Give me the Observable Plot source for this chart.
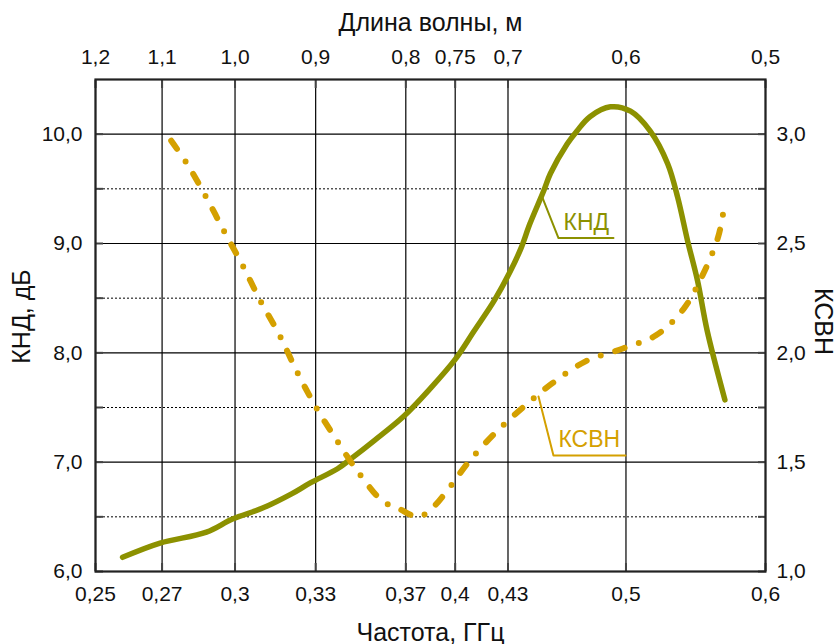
<!DOCTYPE html>
<html>
<head>
<meta charset="utf-8">
<script src="https://cdn.jsdelivr.net/npm/d3@7"></script>
<script src="https://cdn.jsdelivr.net/npm/@observablehq/plot@0.6"></script>
<style>
  html, body { margin: 0; padding: 0; background: #fff; }
  #chart svg { display: block; }
</style>
</head>
<body>
<div id="chart"></div>
<script>
// Wavelength grid (m) and the matching frequency labels (GHz); f = 0.3 / λ
const wavelengths = [1.2, 1.1, 1.0, 0.9, 0.8, 0.75, 0.7, 0.6, 0.5];
const wavelengthLabels = ["1,2", "1,1", "1,0", "0,9", "0,8", "0,75", "0,7", "0,6", "0,5"];
const freqLabels = ["0,25", "0,27", "0,3", "0,33", "0,37", "0,4", "0,43", "0,5", "0,6"];

// Left axis: directivity (dB); right axis: VSWR
const kndTicks = [6, 7, 8, 9, 10];
const kndHalfTicks = [6.5, 7.5, 8.5, 9.5];
const vswrTicks = [1.0, 1.5, 2.0, 2.5, 3.0];

// Directivity vs frequency
const kndFreq = [0.259, 0.272, 0.289, 0.299, 0.311, 0.323, 0.331, 0.343, 0.349, 0.360, 0.374, 0.387, 0.400,
                 0.410, 0.421, 0.430, 0.436, 0.441, 0.449, 0.453, 0.463, 0.469, 0.477, 0.490, 0.503, 0.516,
                 0.528, 0.535, 0.542, 0.549, 0.556, 0.569];
const kndValue = [6.13, 6.26, 6.36, 6.48, 6.58, 6.71, 6.81, 6.94, 7.03, 7.20, 7.42, 7.67, 7.94,
                  8.20, 8.48, 8.75, 8.96, 9.18, 9.48, 9.64, 9.91, 10.03, 10.16, 10.25, 10.21, 10.03,
                  9.73, 9.42, 9.02, 8.66, 8.20, 7.57];

// VSWR vs frequency
const vswrFreq = [0.276, 0.282, 0.289, 0.296, 0.303, 0.310, 0.318, 0.325, 0.333, 0.342, 0.352, 0.364, 0.371,
                  0.381, 0.387, 0.395, 0.407, 0.421, 0.437, 0.454, 0.474, 0.498, 0.520, 0.539, 0.553, 0.564, 0.568];
const vswrValue = [2.97, 2.86, 2.71, 2.55, 2.40, 2.24, 2.08, 1.92, 1.76, 1.61, 1.46, 1.32, 1.29,
                   1.25, 1.28, 1.36, 1.50, 1.63, 1.75, 1.86, 1.96, 2.02, 2.08, 2.20, 2.36, 2.53, 2.65];

// Callout leaders for the two curve labels
const kndLeaderFreq = [0.4483, 0.4578, 0.4919];
const kndLeaderValue = [9.42, 9.05, 9.05];
const vswrLeaderFreq = [0.4460, 0.4548, 0.4997];
const vswrLeaderValue = [1.80, 1.53, 1.53];

const olive = "#8c9100";
const gold = "#d4a000";
const comma = d => d.toFixed(1).replace(".", ",");

// VSWR shares the vertical scale: 1.0 ↔ 6 dB, 3.0 ↔ 10 dB
const vswrToY = v => 6 + 2 * (v - 1);

const freqTicks = wavelengths.map(l => 0.3 / l);
const allYTicks = [...kndTicks, ...kndHalfTicks];
const knd = kndFreq.map((f, i) => ({f, v: kndValue[i]}));
const vswr = vswrFreq.map((f, i) => ({f, v: vswrToY(vswrValue[i])}));
const kndLeader = kndLeaderFreq.map((f, i) => ({f, v: kndLeaderValue[i]}));
const vswrLeader = vswrLeaderFreq.map((f, i) => ({f, v: vswrToY(vswrLeaderValue[i])}));

// short inward tick stubs on the frame (no labels)
const stub = {tickSize: 8, label: null, tickFormat: () => "", stroke: "#444", strokeWidth: 2};

const chart = Plot.plot({
  width: 837,
  height: 644,
  marginLeft: 95,
  marginRight: 72,
  marginTop: 79,
  marginBottom: 73,
  style: {fontFamily: "'Liberation Sans', Arial, sans-serif", fontSize: "21px", color: "#111", background: "#fff"},
  x: {type: "log", domain: [0.25, 0.6]},
  y: {domain: [6, 10.5]},
  marks: [
    // grid
    Plot.ruleX(freqTicks, {stroke: "#000", strokeWidth: 1.2}),
    Plot.ruleY(kndTicks.slice(1), {stroke: "#000", strokeWidth: 1.2}),
    Plot.ruleY(kndHalfTicks, {stroke: "#000", strokeWidth: 1, strokeDasharray: "2,2"}),
    Plot.axisY(allYTicks, {...stub, anchor: "left", dx: 8}),
    Plot.axisY(allYTicks, {...stub, anchor: "right", dx: -8}),
    Plot.axisX(freqTicks, {...stub, anchor: "bottom", dy: -8}),
    Plot.axisX(freqTicks, {...stub, anchor: "top", dy: 8}),
    Plot.frame({stroke: "#222", strokeWidth: 2.2}),

    // curves
    Plot.line(knd, {x: "f", y: "v", stroke: olive, strokeWidth: 5.5, curve: "catmull-rom", strokeLinecap: "round"}),
    Plot.line(vswr, {x: "f", y: "v", stroke: gold, strokeWidth: 6, curve: "catmull-rom",
                     strokeLinecap: "round", strokeDasharray: "10,15,0,15"}),

    // callouts
    Plot.line(kndLeader, {x: "f", y: "v", stroke: olive, strokeWidth: 2}),
    Plot.text(["КНД"], {x: kndLeaderFreq[1], y: kndLeaderValue[1], dx: 5, dy: -8,
                        textAnchor: "start", lineAnchor: "bottom", fill: olive, fontSize: 23}),
    Plot.line(vswrLeader, {x: "f", y: "v", stroke: gold, strokeWidth: 2}),
    Plot.text(["КСВН"], {x: vswrLeaderFreq[1], y: vswrToY(vswrLeaderValue[1]), dx: 5, dy: -9,
                         textAnchor: "start", lineAnchor: "bottom", fill: gold, fontSize: 23}),

    // axes
    Plot.axisX(freqTicks, {anchor: "bottom", tickSize: 0, tickPadding: 15, label: null,
                           tickFormat: d => freqLabels[freqTicks.indexOf(d)]}),
    Plot.axisX(freqTicks, {anchor: "top", tickSize: 0, tickPadding: 16, label: null,
                           tickFormat: d => wavelengthLabels[freqTicks.indexOf(d)]}),
    Plot.axisY(kndTicks, {anchor: "left", tickSize: 0, tickPadding: 13, label: null, tickFormat: comma}),
    Plot.axisY(vswrTicks.map(vswrToY), {anchor: "right", tickSize: 0, tickPadding: 11, label: null,
                                        tickFormat: d => comma((d - 6) / 2 + 1)}),

    // axis titles
    Plot.text(["Длина волны, м"], {frameAnchor: "top", dy: -49, lineAnchor: "bottom", fontSize: 25}),
    Plot.text(["Частота, ГГц"], {frameAnchor: "bottom", dy: 69, lineAnchor: "bottom", fontSize: 25}),
    Plot.text(["КНД, дБ"], {frameAnchor: "left", dx: -74, dy: -9, rotate: -90, textAnchor: "middle",
                            lineAnchor: "middle", fontSize: 25}),
    Plot.text(["КСВН"], {frameAnchor: "right", dx: 57, dy: -4, rotate: 90, textAnchor: "middle",
                         lineAnchor: "middle", fontSize: 25})
  ]
});

document.getElementById("chart").append(chart);
</script>
</body>
</html>
